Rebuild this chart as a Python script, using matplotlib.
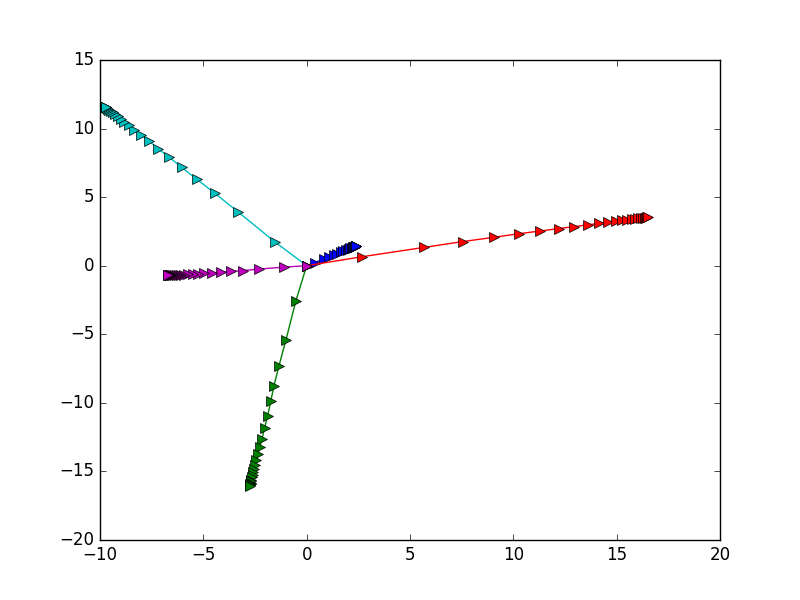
import matplotlib
matplotlib.use('Agg')
import matplotlib.pyplot as plt

plt.style.use('classic')

# blue series
blue_x = [0, 0.39, 0.83, 1.10, 1.32, 1.49, 1.64, 1.77, 1.88, 1.98, 2.06, 2.12,
          2.17, 2.22, 2.25, 2.28, 2.31, 2.33, 2.35, 2.36, 2.38, 2.39, 2.40, 2.40]
blue_y = [0, 0.23, 0.49, 0.65, 0.78, 0.88, 0.97, 1.05, 1.11, 1.17, 1.22, 1.26,
          1.29, 1.31, 1.33, 1.35, 1.37, 1.38, 1.39, 1.40, 1.41, 1.41, 1.42, 1.42]

# green series
green_x = [0, -0.52, -1.0, -1.34, -1.58, -1.74, -1.89, -2.03, -2.16, -2.26, -2.35, -2.43,
           -2.49, -2.54, -2.58, -2.62, -2.65, -2.67, -2.69, -2.70, -2.71, -2.72, -2.72, -2.73]
green_y = [0, -2.55, -5.4, -7.3, -8.75, -9.9, -10.95, -11.8, -12.6, -13.2, -13.75, -14.2,
           -14.5, -14.8, -15.05, -15.27, -15.44, -15.6, -15.71, -15.81, -15.89, -15.95, -16.01, -16.05]

# red series
red_x = [0, 2.7, 5.7, 7.55, 9.05, 10.25, 11.3, 12.2, 12.95, 13.6, 14.15, 14.6,
         14.95, 15.25, 15.5, 15.72, 15.9, 16.05, 16.17, 16.27, 16.35, 16.42, 16.48, 16.52]
red_y = [0, 0.66, 1.34, 1.76, 2.07, 2.33, 2.53, 2.71, 2.85, 2.98, 3.08, 3.17,
         3.24, 3.30, 3.35, 3.39, 3.42, 3.45, 3.47, 3.49, 3.50, 3.51, 3.52, 3.52]

# cyan series
cyan_x = [0, -1.55, -3.3, -4.44, -5.33, -6.05, -6.64, -7.18, -7.62, -8.0, -8.35, -8.62,
          -8.82, -9.0, -9.15, -9.28, -9.38, -9.48, -9.55, -9.60, -9.65, -9.69, -9.72, -9.73]
cyan_y = [0, 1.75, 3.9, 5.28, 6.32, 7.17, 7.9, 8.52, 9.08, 9.53, 9.92, 10.24,
          10.5, 10.72, 10.9, 11.05, 11.18, 11.3, 11.37, 11.45, 11.5, 11.55, 11.58, 11.6]

# magenta series
mag_x = [0, -1.1, -2.33, -3.06, -3.67, -4.16, -4.6, -4.95, -5.25, -5.51, -5.74, -5.92,
         -6.06, -6.18, -6.28, -6.38, -6.45, -6.51, -6.56, -6.60, -6.63, -6.66, -6.69, -6.70]
mag_y = [0, -0.1, -0.25, -0.35, -0.42, -0.48, -0.52, -0.56, -0.59, -0.61, -0.63, -0.65,
         -0.66, -0.67, -0.68, -0.685, -0.69, -0.695, -0.70, -0.70, -0.70, -0.70, -0.70, -0.70]

fig = plt.figure(figsize=(8, 6), dpi=100)
plt.plot(blue_x, blue_y, 'b>-', markersize=7)
plt.plot(green_x, green_y, 'g>-', markersize=7)
plt.plot(red_x, red_y, 'r>-', markersize=7)
plt.plot(cyan_x, cyan_y, 'c>-', markersize=7)
plt.plot(mag_x, mag_y, 'm>-', markersize=7)

plt.xlim(-10, 20)
plt.ylim(-20, 15)

plt.savefig('out.png', dpi=100)
